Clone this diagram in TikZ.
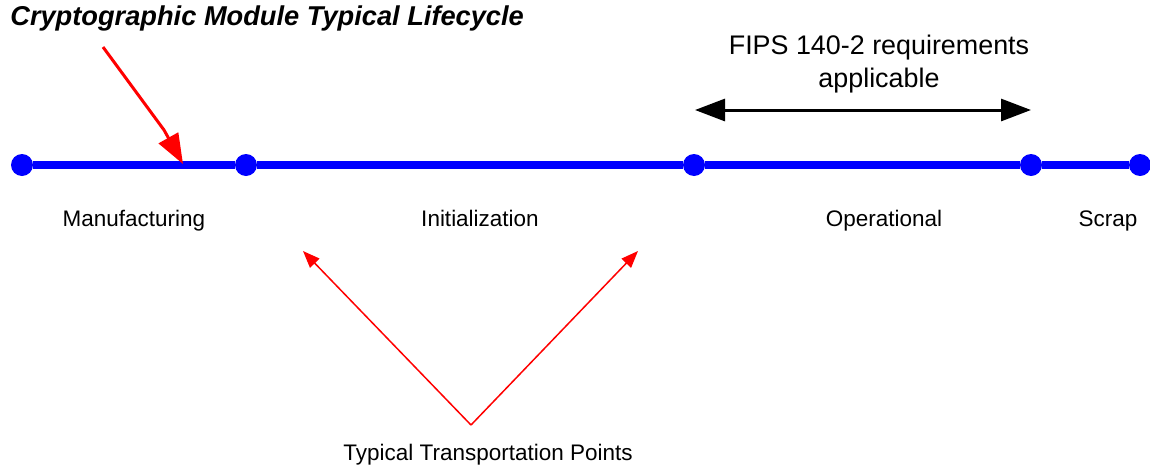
\documentclass[tikz,border=0pt]{standalone}
\usepackage{fontspec}
\setmainfont{Liberation Sans}
\usetikzlibrary{arrows.meta}

\begin{document}
\begin{tikzpicture}[x=0.02cm, y=-0.02cm,
every node/.style = {align=center, inner sep=0pt},
dot/.style = {circle, fill=blue, minimum size=0.44cm},
phase/.style = {font=\fontsize{12.8}{15}\selectfont},
life/.style = {blue, line width=0.16cm},
bigred/.style = {red, line width=0.06cm, -{Triangle[length=0.6cm, width=0.44cm]}},
thinred/.style = {red, line width=0.03cm, -{Triangle[length=0.34cm, width=0.26cm]}},
fips/.style = {black, line width=0.06cm, {Triangle[length=0.6cm, width=0.44cm]}-{Triangle[length=0.6cm, width=0.44cm]}}]
\useasboundingbox (0,0) rectangle (1150,467);
\node[anchor=west, font=\fontsize{15.5}{18}\selectfont\bfseries\itshape] (title) at (10,18) {Cryptographic Module Typical Lifecycle};
\node[dot] (d1) at (22,165) {};
\node[dot] (d2) at (246,165) {};
\node[dot] (d3) at (694,165) {};
\node[dot] (d4) at (1031,165) {};
\node[dot] (d5) at (1140,165) {};
\draw[life] (d1) -- (d2) -- (d3) -- (d4) -- (d5);
\node[phase] (manuf) at (134,221) {Manufacturing};
\node[phase] (init) at (480,218) {Initialization};
\node[phase] (oper) at (884,221) {Operational};
\node[phase] (scrap) at (1108,221) {Scrap};
\node[font=\fontsize{15.3}{18.4}\selectfont] (fipstext) at (879,64) {FIPS 140-2 requirements\\applicable};
\node[phase] (transp) at (488,455) {Typical Transportation Points};
% arrows
\coordinate (titlefrom) at (103,47);
\coordinate (onmanuf) at (183,164);
\draw[bigred] (titlefrom) -- (164,130) -- (onmanuf);
\coordinate (fipsA) at (695,110);
\coordinate (fipsB) at (1031,110);
\draw[fips] (fipsA) -- (fipsB);
\coordinate (vtip) at (471,425);
\coordinate (pointA) at (303,251);
\coordinate (pointB) at (638,251);
\draw[thinred] (vtip) -- (pointA);
\draw[thinred] (vtip) -- (pointB);
\end{tikzpicture}
\end{document}
